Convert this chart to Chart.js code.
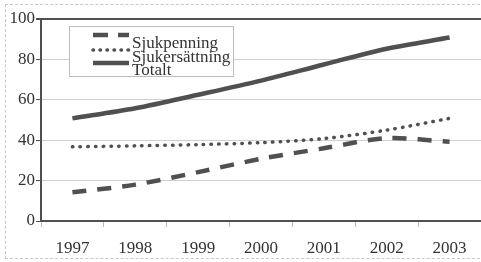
<!DOCTYPE html>
<html>
<head>
<meta charset="utf-8">
<script src="https://cdn.jsdelivr.net/npm/chart.js@4"></script>
<style>
  html, body { margin: 0; padding: 0; background: #fff; overflow: hidden; }
  #wrap { position: relative; width: 481px; height: 262px; }
  #frame { position: absolute; left: 5px; top: 4px; width: 490px; height: 255px;
           border: 1px dashed #c8c8c8; box-sizing: border-box; pointer-events: none; }
  canvas { position: absolute; left: 0; top: 0; }
</style>
</head>
<body>
<div id="wrap">
  <div id="frame"></div>
  <canvas id="c" width="481" height="262"></canvas>
</div>
<script>
  const YEARS = ["1997", "1998", "1999", "2000", "2001", "2002", "2003"];
  const SJUKPENNING = [14.2, 18, 24.2, 30.8, 36, 41, 39.2];
  const SJUKERSATTNING = [36.7, 37.2, 37.8, 38.8, 40.8, 45, 50.8];
  const TOTALT = [50.8, 55.8, 62.5, 69.5, 77.5, 85.3, 90.8];

  const INK = "#505050";
  const FONT = "'Liberation Serif', 'Times New Roman', serif";

  // legend drawn inside the plot, overlapping rows like the original
  const boxLegend = {
    id: "boxLegend",
    afterDraw(chart) {
      const ctx = chart.ctx;
      ctx.save();
      ctx.fillStyle = "#fff";
      ctx.fillRect(69.5, 26.5, 164, 50);
      ctx.strokeStyle = "#bdbdbd";
      ctx.lineWidth = 1;
      ctx.strokeRect(69.5, 26.5, 164, 50);
      const rows = [35, 50, 63];
      const base = [48, 62, 75];
      chart.data.datasets.forEach((ds, i) => {
        ctx.beginPath();
        ctx.strokeStyle = ds.borderColor;
        ctx.lineWidth = ds.borderWidth;
        ctx.lineCap = ds.borderCapStyle || "butt";
        ctx.setLineDash(ds.legendDash || []);
        ctx.moveTo(93, rows[i]);
        ctx.lineTo(129, rows[i]);
        ctx.stroke();
        ctx.setLineDash([]);
        ctx.fillStyle = "#333";
        ctx.font = "17px " + FONT;
        ctx.textBaseline = "alphabetic";
        ctx.fillText(ds.label, 132, base[i]);
      });
      ctx.restore();
    }
  };

  new Chart(document.getElementById("c"), {
    type: "line",
    data: {
      labels: YEARS,
      datasets: [
        { label: "Sjukpenning", data: SJUKPENNING, borderColor: INK, borderWidth: 4.5,
          borderDash: [14, 11], legendDash: [15, 10], pointRadius: 0, tension: 0.3 },
        { label: "Sjukersättning", data: SJUKERSATTNING, borderColor: INK, borderWidth: 3.5,
          borderDash: [0.5, 7.2], legendDash: [0.5, 6.5], borderCapStyle: "round", pointRadius: 0, tension: 0.3 },
        { label: "Totalt", data: TOTALT, borderColor: INK, borderWidth: 4.5,
          pointRadius: 0, tension: 0.3 },
      ],
    },
    options: {
      responsive: false, animation: false,
      layout: { padding: { top: 19, right: 0, left: 0, bottom: 0 } },
      plugins: { legend: { display: false }, tooltip: { enabled: false } },
      scales: {
        x: {
          offset: true,
          grid: { offset: true, drawOnChartArea: false, tickLength: 6, tickColor: "#bbb" },
          border: { color: INK, width: 2 },
          ticks: { color: "#333", font: { family: FONT, size: 17 }, padding: 11, maxRotation: 0 },
          afterFit(s) { s.height = 41; },
        },
        y: {
          min: 0, max: 100,
          grid: {
            color: (c) => (c.tick && c.tick.value === 100 ? INK : "#d0d0d0"),
            lineWidth: (c) => (c.tick && c.tick.value === 100 ? 2 : 1),
            tickLength: 5, tickColor: INK,
          },
          border: { color: INK, width: 2 },
          ticks: { stepSize: 20, color: "#333", font: { family: FONT, size: 17 }, padding: 1 },
          afterFit(s) { s.width = 41; },
        },
      },
    },
    plugins: [boxLegend],
  });
</script>
</body>
</html>
